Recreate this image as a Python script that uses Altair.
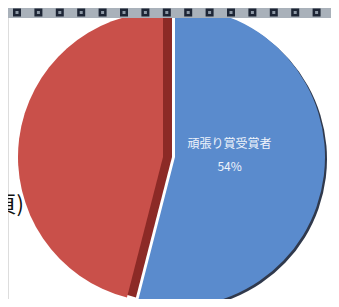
import altair as alt
import pandas as pd

# Pie data
categories = ["頑張り賞受賞者", "その他"]
values = [54, 46]
keys = ["blue", "red"]
orders = [0, 1]
label_text = ["頑張り賞受賞者\n54%", ""]

# Decorative header squares
square_index = list(range(15))

BLUE = "#5a8bcd"
RED = "#c9504a"
RED_DARK = "#8c2a26"

df = pd.DataFrame({"cat": categories, "value": values, "key": keys,
                   "idx": orders, "label": label_text})
sq = pd.DataFrame({"i": square_index})
dummy = pd.DataFrame({"d": [0]})

R = 150
R_RED = 145
CX, CY = 167, 149

base = alt.Chart(df)
theta = alt.Theta("value:Q", stack=True)
order = alt.Order("idx:Q")


def slice_layer(key, color, cx, cy, radius, opacity=1.0):
    return base.mark_arc(radius=radius, opacity=opacity).encode(
        theta=theta,
        order=order,
        x=alt.value(cx),
        y=alt.value(cy),
        fill=alt.condition(alt.datum.key == key, alt.value(color), alt.value("transparent")),
    )


shadow = slice_layer("blue", "#1a2438", CX + 2, CY + 2, R, 0.9)
blue = slice_layer("blue", BLUE, CX, CY, R)
red_dark = slice_layer("red", RED_DARK, CX - 3, CY, R_RED)
red_light = slice_layer("red", RED, CX - 12, CY, R_RED)

labels = base.mark_text(
    radius=55, color="#eef3fb", fontSize=12, font="Noto Sans CJK JP",
    lineBreak="\n", lineHeight=23, dy=-20, align="center", baseline="middle",
).encode(
    theta=theta,
    order=order,
    x=alt.value(CX),
    y=alt.value(CY),
    text="label:N",
)

band = alt.Chart(dummy).mark_rect(color="#a9b1ba").encode(
    x=alt.value(0), x2=alt.value(323), y=alt.value(0), y2=alt.value(10)
)

squares = alt.Chart(sq).mark_square(size=64, color="#1d2535", opacity=1).encode(
    x=alt.X("i:Q", scale=alt.Scale(domain=[0, 14], range=[9, 308.6]), axis=None),
    y=alt.value(4.5),
)
squares_inner = alt.Chart(sq).mark_square(size=9, color="#8d98a5", opacity=1).encode(
    x=alt.X("i:Q", scale=alt.Scale(domain=[0, 14], range=[9, 308.6]), axis=None),
    y=alt.value(4.5),
)

page_text = alt.Chart(dummy).mark_text(
    text="頁)", fontSize=22, font="Noto Sans CJK JP", color="#111111",
    align="right", baseline="middle",
).encode(x=alt.value(16), y=alt.value(197))

chart = alt.layer(
    shadow, blue, red_dark, red_light, labels, band, squares, squares_inner, page_text
).properties(
    width=323, height=291, padding=0, autosize="none"
).configure_view(stroke="transparent", strokeWidth=0).configure(background="white")

chart.save("out.html", embed_options={"renderer": "svg", "actions": False})
